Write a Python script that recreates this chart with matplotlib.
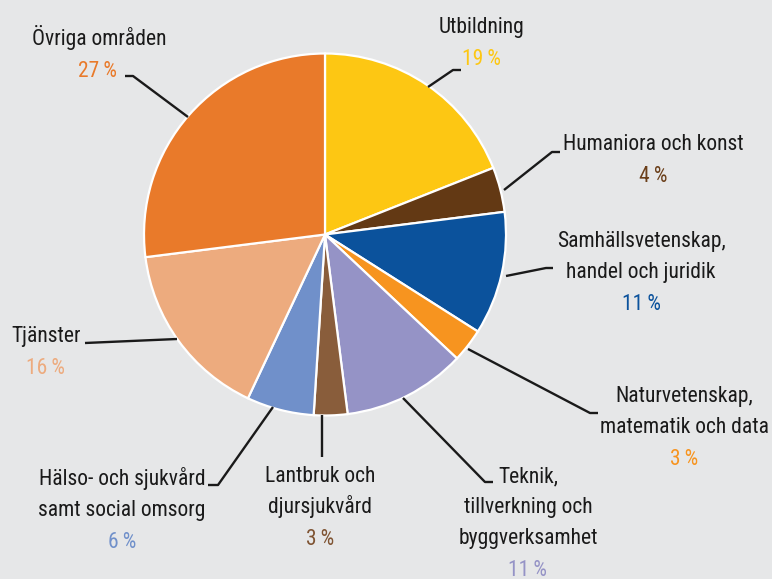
import matplotlib
matplotlib.use("Agg")
import matplotlib.pyplot as plt
from matplotlib import font_manager as fm

categories = ["Utbildning", "Humaniora och konst", "Samhällsvetenskap,\nhandel och juridik",
              "Naturvetenskap,\nmatematik och data", "Teknik,\ntillverkning och\nbyggverksamhet",
              "Lantbruk och\ndjursjukvård", "Hälso- och sjukvård\nsamt social omsorg",
              "Tjänster", "Övriga områden"]
values = [19, 4, 11, 3, 11, 3, 6, 16, 27]
colors = ["#fdc713", "#633914", "#0b529c", "#f7941f", "#9593c6",
          "#895d3b", "#7090ca", "#edab7e", "#e97a2a"]
pct_colors = ["#fdc713", "#6b3f1a", "#0b529c", "#f7941f", "#9593c6",
              "#7f5433", "#7090ca", "#edab7e", "#e97a2a"]

# pick a condensed font if one is available
entries = fm.fontManager.ttflist
names = {f.name for f in entries}
preferred = ['Liberation Sans Narrow', 'Roboto Condensed', 'Open Sans Condensed',
             'DejaVu Sans Condensed', 'Noto Sans Condensed', 'Arial Narrow']
family = None
stretch = 'normal'
for p in preferred:
    if p in names:
        family = p
        break
if family is None:
    for f in entries:
        if f.stretch in ('condensed', 'semi-condensed', 'extra-condensed') and 'Mono' not in f.name \
                and 'Serif' not in f.name and f.style == 'normal':
            family = f.name
            stretch = f.stretch
            break
if family is None:
    for p in ['Roboto', 'Lato', 'Liberation Sans']:
        if p in names:
            family = p
            break
if family is None:
    family = 'DejaVu Sans'
plt.rcParams['font.family'] = [family, 'DejaVu Sans']

W, H = 772, 579
fig = plt.figure(figsize=(W / 100, H / 100), dpi=100)
bg = "#e6e7e8"
fig.patch.set_facecolor(bg)
ax = fig.add_axes([0, 0, 1, 1])
ax.set_facecolor(bg)

cx, cy, r = 325, 234.5, 181
ax.pie(values, colors=colors, startangle=-90, counterclock=True,
       center=(cx, cy), radius=r,
       wedgeprops=dict(edgecolor="white", linewidth=1.6))
ax.set_xlim(0, W)
ax.set_ylim(H, 0)
ax.set_aspect('auto')
ax.axis('off')

# size the font so that a reference string gets about the reference width
renderer = fig.canvas.get_renderer()
probe = ax.text(0, 0, "Humaniora och konst", fontsize=15.5, fontstretch=stretch)
wpx = probe.get_window_extent(renderer).width
probe.remove()
fs = min(15.5, 15.5 * 184.0 / wpx)

# label layout: (x center, first baseline, leader polyline)
layout = [
    (481, 33, [(428, 87), (453, 70), (461, 70)]),
    (653, 150, [(504, 190), (552, 152), (560, 152)]),
    (641, 247, [(506, 276), (546, 268), (553, 268)]),
    (684, 402, [(468, 349), (590, 413), (598, 413)]),
    (528, 482, [(403, 398), (485, 482), (493, 482)]),
    (320, 482, [(322, 415), (322, 457)]),
    (122, 485, [(273, 407), (218, 485), (208, 485)]),
    (46, 342, [(177, 339), (85, 343)]),
    (99, 45, [(188, 117), (133, 76), (125, 76)]),
]
line_h = 31
for cat, val, pc, (x, y, pts) in zip(categories, values, pct_colors, layout):
    lines = cat.split("\n")
    for i, ln in enumerate(lines):
        ax.text(x, y + i * line_h, ln, ha='center', va='baseline',
                fontsize=fs, fontstretch=stretch, color="#1a1a1a")
    px = x
    if cat == "Övriga områden":
        px = 98
    ax.text(px, y + len(lines) * line_h + 1, f"{val}\u2009%", ha='center', va='baseline',
            fontsize=fs, fontstretch=stretch, color=pc)
    xs = [p[0] for p in pts]
    ys = [p[1] for p in pts]
    ax.plot(xs, ys, color="#1a1a1a", linewidth=1.7, solid_capstyle='butt')

fig.savefig("out.png", dpi=100, facecolor=bg)
